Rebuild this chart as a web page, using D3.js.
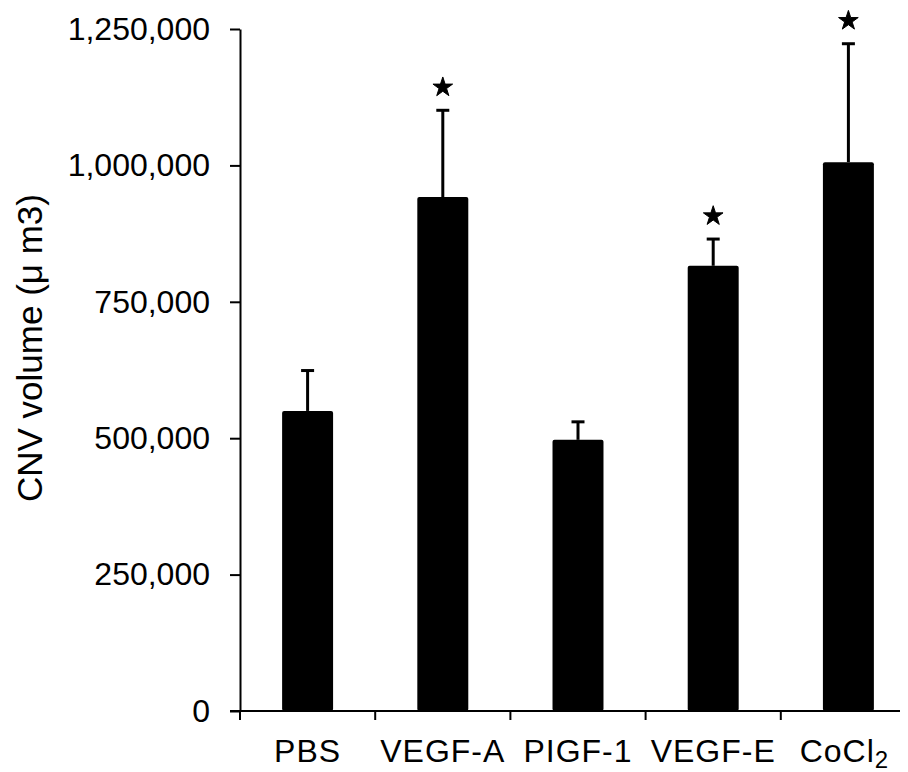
<!DOCTYPE html>
<html>
<head>
<meta charset="utf-8">
<script src="https://cdn.jsdelivr.net/npm/d3@7/dist/d3.min.js"></script>
<style>
  html, body { margin: 0; padding: 0; background: #fff; }
  svg { display: block; }
  text { font-family: "Liberation Sans", Arial, Helvetica, sans-serif; fill: #000; }
</style>
</head>
<body>
<script>
const categories = ["PBS", "VEGF-A", "PIGF-1", "VEGF-E", "CoCl2"];
const means = [550000, 942000, 497000, 816000, 1006000];
const errUpper = [624000, 1101000, 530000, 865000, 1223000];
const significant = [false, true, false, true, true];
const yTicks = [0, 250000, 500000, 750000, 1000000, 1250000];

const W = 908, H = 772;
const svg = d3.select("body").append("svg").attr("width", W).attr("height", H);

const y = d3.scaleLinear().domain([0, 1250000]).range([711, 29]);
const x = d3.scaleBand().domain(categories).range([240, 916]).paddingInner(0.623).paddingOuter(0.3115);

// Y axis
const yAxis = d3.axisLeft(y).tickValues(yTicks).tickFormat(d3.format(",")).tickSize(10).tickSizeOuter(0).tickPadding(20);
const gy = svg.append("g").attr("transform", "translate(240,0)").call(yAxis);
gy.select(".domain").attr("stroke", "#000").attr("stroke-width", 2);
gy.selectAll(".tick line").attr("stroke", "#000").attr("stroke-width", 2);
gy.selectAll(".tick text").style("font-size", "32px").style("font-family", '"Liberation Sans", Arial, sans-serif').attr("fill", "#000");
// extension of y-axis below zero
svg.append("line").attr("x1", 240).attr("x2", 240).attr("y1", y(0)).attr("y2", y(0) + 9).attr("stroke", "#000").attr("stroke-width", 2);

// X axis line
svg.append("line").attr("x1", 230).attr("x2", 900).attr("y1", y(0)).attr("y2", y(0)).attr("stroke", "#000").attr("stroke-width", 2);
// boundary ticks
categories.slice(1).forEach(c => {
  const bx = x(c) + x.bandwidth() / 2 - x.step() / 2;
  svg.append("line").attr("x1", bx).attr("x2", bx).attr("y1", y(0)).attr("y2", y(0) + 9).attr("stroke", "#000").attr("stroke-width", 2);
});

// bars
svg.append("g").selectAll("rect").data(categories).join("rect")
  .attr("x", d => x(d))
  .attr("width", x.bandwidth())
  .attr("y", (d, i) => y(means[i]))
  .attr("height", (d, i) => y(0) - y(means[i]))
  .attr("rx", 2)
  .attr("fill", "#000");

// error bars
const eg = svg.append("g").attr("stroke", "#000");
categories.forEach((c, i) => {
  const cx = x(c) + x.bandwidth() / 2;
  eg.append("line").attr("x1", cx).attr("x2", cx).attr("y1", y(means[i])).attr("y2", y(errUpper[i])).attr("stroke-width", 3);
  eg.append("line").attr("x1", cx - 6.5).attr("x2", cx + 6.5).attr("y1", y(errUpper[i])).attr("y2", y(errUpper[i])).attr("stroke-width", 3);
  if (significant[i]) {
    svg.append("path")
      .attr("d", d3.symbol(d3.symbolStar, 120)())
      .attr("transform", `translate(${cx},${y(errUpper[i]) - 23})`)
      .attr("fill", "#000")
      .attr("stroke", "#000")
      .attr("stroke-width", 1)
      .attr("stroke-linejoin", "round");
  }
});

// x labels
categories.forEach(c => {
  const cx = x(c) + x.bandwidth() / 2;
  const t = svg.append("text").attr("x", cx).attr("y", 762).attr("text-anchor", "middle")
    .style("font-size", "32px").style("letter-spacing", "1px");
  if (c === "CoCl2") {
    t.attr("x", cx - 4);
    t.append("tspan").text("CoCl");
    t.append("tspan").text("2").attr("dy", 6).style("font-size", "24px");
  } else {
    t.text(c);
  }
});

// y label
svg.append("text")
  .attr("transform", "translate(42,348) rotate(-90)")
  .attr("text-anchor", "middle")
  .style("font-size", "35px")
  .text("CNV volume (\u03bc m3)");
</script>
</body>
</html>
